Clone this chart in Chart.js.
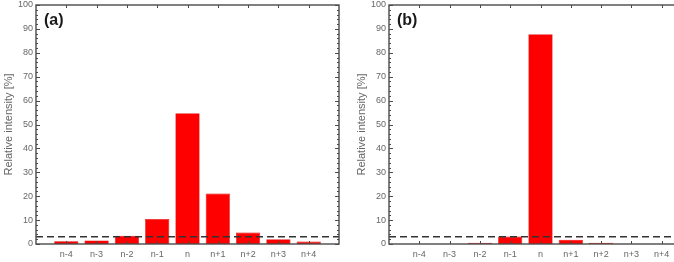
<!DOCTYPE html>
<html>
<head>
<meta charset="utf-8">
<script src="https://cdn.jsdelivr.net/npm/chart.js@4/dist/chart.umd.min.js"></script>
<style>
  html, body { margin:0; padding:0; width:674px; height:262px; overflow:hidden; background:#fff; }
  .panel { position:absolute; top:0; width:340px; height:262px; }
  #pa { left:0; }
  #pb { left:353px; }
</style>
</head>
<body>
<div class="panel" id="pa"><canvas id="ca"></canvas></div>
<div class="panel" id="pb"><canvas id="cb"></canvas></div>
<script>
const categories = ['n-4','n-3','n-2','n-1','n','n+1','n+2','n+3','n+4'];
const valuesA = [1.1, 1.5, 3.5, 10.5, 54.7, 21.1, 4.8, 2.0, 1.0];
const valuesB = [0, 0, 0.5, 3.1, 87.8, 1.8, 0.5, 0, 0];
const threshold = 3;
const yTicks = [0,10,20,30,40,50,60,70,80,90,100];
const panelLabels = ['(a)', '(b)'];
const yTitle = 'Relative intensity [%]';

const AXIS = '#4a4a4a';
const TXT = '#666666';

const framePlugin = {
  id: 'frame',
  afterDatasetsDraw(chart, args, opts) {
    const ctx = chart.ctx;
    const a = chart.chartArea;
    const xs = chart.scales.x, ys = chart.scales.y;
    ctx.save();
    const yt = ys.getPixelForValue(threshold);
    ctx.strokeStyle = '#333';
    ctx.lineWidth = 1.5;
    ctx.setLineDash([7, 4]);
    ctx.beginPath();
    ctx.moveTo(a.left, yt); ctx.lineTo(a.right, yt);
    ctx.stroke();
    ctx.setLineDash([]);
    ctx.strokeStyle = AXIS;
    ctx.lineWidth = 1;
    ctx.beginPath();
    for (let v = 0; v <= 100; v += 2) {
      const y = Math.round(ys.getPixelForValue(v)) + 0.5;
      const len = (v % 10 === 0) ? 4 : 2;
      ctx.moveTo(a.left, y); ctx.lineTo(a.left + len, y);
      ctx.moveTo(a.right, y); ctx.lineTo(a.right - len, y);
    }
    categories.forEach((c, i) => {
      const x = Math.round(xs.getPixelForValue(i - 4)) + 0.5;
      ctx.moveTo(x, a.top); ctx.lineTo(x, a.top + 3);
      ctx.moveTo(x, a.bottom); ctx.lineTo(x, a.bottom - 3);
    });
    ctx.stroke();
    ctx.lineWidth = 1.4;
    ctx.strokeRect(a.left, a.top, a.right - a.left, a.bottom - a.top);
    ctx.fillStyle = '#1a1a1a';
    ctx.font = 'bold 16px "Liberation Sans", Arial, sans-serif';
    ctx.textBaseline = 'middle';
    ctx.textAlign = 'left';
    ctx.fillText(opts.label, a.left + 8, a.top + 16);
    ctx.restore();
  }
};

function makeChart(id, values, label) {
  const data = values.map((v, i) => ({ x: i - 4, y: v }));
  return new Chart(document.getElementById(id), {
    type: 'bar',
    data: {
      datasets: [{
        data: data,
        backgroundColor: '#ff0000',
        borderColor: '#d40000',
        borderWidth: 0.6,
        barPercentage: 0.8,
        categoryPercentage: 1.0
      }]
    },
    options: {
      responsive: true,
      maintainAspectRatio: false,
      animation: false,
      events: [],
      layout: { padding: { top: 0, right: 1, left: 0, bottom: 0 } },
      plugins: {
        legend: { display: false },
        tooltip: { enabled: false },
        frame: { label: label }
      },
      scales: {
        x: {
          type: 'linear',
          offset: false,
          min: -5, max: 5,
          afterBuildTicks: (s) => { s.ticks = categories.map((c, i) => ({ value: i - 4 })); },
          afterFit: (s) => { s.height = 18; },
          grid: { display: false, drawTicks: false, offset: false },
          border: { display: false },
          ticks: {
            padding: 5,
            color: TXT,
            font: { family: '"Liberation Sans", Arial, sans-serif', size: 9 },
            maxRotation: 0,
            autoSkip: false,
            callback: (v) => categories[v + 4]
          }
        },
        y: {
          min: 0, max: 100,
          afterBuildTicks: (s) => { s.ticks = yTicks.map(v => ({ value: v })); },
          afterFit: (s) => { s.width = 36; s.paddingTop = 5; },
          grid: { display: false, drawTicks: false },
          border: { display: false },
          ticks: {
            padding: 3,
            color: TXT,
            font: { family: '"Liberation Sans", Arial, sans-serif', size: 9 }
          },
          title: {
            display: true,
            text: yTitle,
            color: TXT,
            padding: { top: 2, bottom: 0 },
            font: { family: '"Liberation Sans", Arial, sans-serif', size: 11 }
          }
        }
      }
    },
    plugins: [framePlugin]
  });
}

makeChart('ca', valuesA, panelLabels[0]);
makeChart('cb', valuesB, panelLabels[1]);
</script>
</body>
</html>
